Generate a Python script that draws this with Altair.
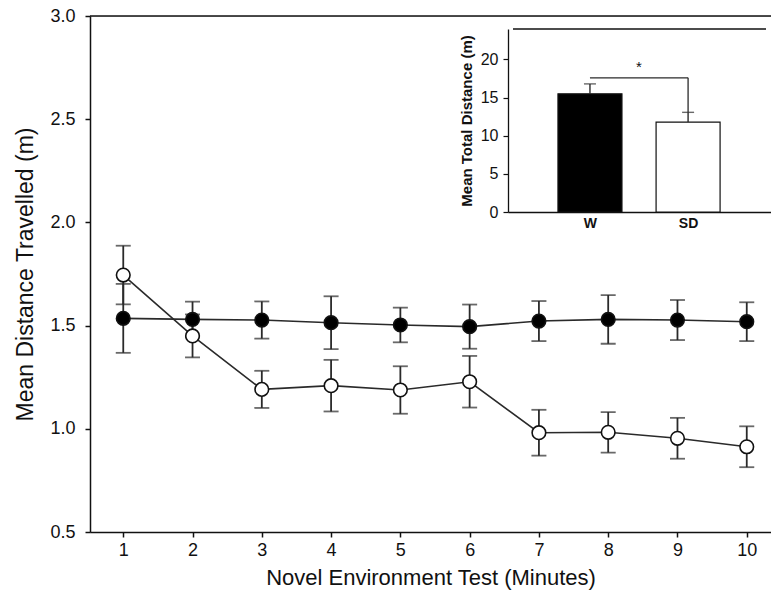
import altair as alt
import pandas as pd

# ---------------- data ----------------
minutes = list(range(1, 11))
w_mean = [1.535, 1.530, 1.527, 1.514, 1.503, 1.495, 1.522, 1.530, 1.527, 1.519]
w_err = [0.167, 0.086, 0.090, 0.128, 0.084, 0.107, 0.097, 0.118, 0.097, 0.094]
sd_mean = [1.745, 1.450, 1.191, 1.209, 1.188, 1.228, 0.981, 0.983, 0.954, 0.913]
sd_err = [0.142, 0.104, 0.090, 0.125, 0.115, 0.125, 0.111, 0.098, 0.099, 0.099]
y_ticks = [0.5, 1.0, 1.5, 2.0, 2.5, 3.0]

inset_groups = ["W", "SD"]
inset_pos = [1, 2]
inset_mean = [15.5, 11.8]
inset_err = [1.3, 1.27]
inset_ticks = [0, 5, 10, 15, 20]
bracket_y = 17.6
star_y = 19.0

FONT = "Liberation Sans"
INK = "#111111"
LINE = "#2a2a2a"

rows = []
for g, means, errs in (("W", w_mean, w_err), ("SD", sd_mean, sd_err)):
    for m, v, e in zip(minutes, means, errs):
        rows.append({"group": g, "minute": m, "mean": v, "lo": v - e, "hi": v + e})
df = pd.DataFrame(rows)

inset_df = pd.DataFrame({
    "group": inset_groups,
    "pos": inset_pos,
    "mean": inset_mean,
    "top": [m + e for m, e in zip(inset_mean, inset_err)],
})

# ---------------- main panel ----------------
W, H = 681, 516
x_dom = [0.52, 10.35]
y_dom = [0.5, 3.0]
x_scale = alt.Scale(domain=x_dom, nice=False, zero=False)
y_scale = alt.Scale(domain=y_dom, nice=False, zero=False)

x_axis = alt.Axis(values=minutes, tickSize=5, tickWidth=1.5, tickColor=INK,
                  domainColor=INK, domainWidth=1.5, grid=False,
                  labelFontSize=18, labelColor=INK, labelPadding=4, labelFlush=False,
                  title="Novel Environment Test (Minutes)", titleFontSize=22,
                  titleFontWeight="normal", titleColor=INK, titlePadding=8)
y_axis = alt.Axis(values=y_ticks, format=".1f", tickSize=5, tickWidth=1.5, tickColor=INK,
                  domainColor=INK, domainWidth=1.5, grid=False,
                  labelFontSize=18, labelColor=INK, labelPadding=10, labelFlush=False,
                  title="Mean Distance Travelled (m)", titleFontSize=23,
                  titleFontWeight="normal", titleColor=INK, titlePadding=12)


def MX(field="minute:Q"):
    return alt.X(field, scale=x_scale, axis=x_axis)


def MY(field):
    return alt.Y(field, scale=y_scale, axis=y_axis)


fill_enc = alt.Fill("group:N", scale=alt.Scale(domain=["W", "SD"], range=["#000000", "#ffffff"]),
                    legend=None)

base = alt.Chart(df)
lines = base.mark_line(color=LINE, strokeWidth=1.6).encode(
    x=MX(), y=MY("mean:Q"), detail="group:N")
err_rules = base.mark_rule(color=LINE, strokeWidth=1.8).encode(
    x=MX(), y=MY("lo:Q"), y2="hi:Q")
caps = base.transform_fold(["lo", "hi"], as_=["which", "val"]).mark_tick(
    orient="horizontal", size=15, thickness=1.8, color=LINE).encode(
    x=MX(), y=MY("val:Q"))
points = base.mark_point(shape="circle", filled=True, size=185, stroke=INK,
                         strokeWidth=1.6, opacity=1).encode(
    x=MX(), y=MY("mean:Q"), fill=fill_enc)
top_df = pd.DataFrame({"x": [x_dom[0]], "x2": [x_dom[1]], "y": [y_dom[1]]})
top_line = alt.Chart(top_df).mark_rule(color=INK, strokeWidth=1.5).encode(
    x=MX("x:Q"), x2="x2:Q", y=MY("y:Q"))

main = alt.layer(lines, err_rules, caps, points, top_line)

# ---------------- inset panel ----------------
ix_dom = [0.2157, 2.794]
iy_dom = [0, 24]
ix_scale = alt.Scale(domain=ix_dom, range=[418, 681], nice=False, zero=False)
iy_scale = alt.Scale(domain=iy_dom, range=[196, 13], nice=False, zero=True)
label_expr = " : ".join(
    [f"datum.value == {p} ? '{g}'" for p, g in zip(inset_pos[:-1], inset_groups[:-1])]
    + [f"'{inset_groups[-1]}'"])
ix_axis = alt.Axis(orient="bottom", offset=-(H - 196), values=inset_pos, labelExpr=label_expr,
                   ticks=False, domainColor=INK, domainWidth=1.3, grid=False,
                   labelFontSize=14, labelFontWeight="bold", labelColor=INK, labelPadding=4,
                   title=None)
iy_axis = alt.Axis(orient="left", offset=-418, values=inset_ticks, tickSize=5, tickWidth=1.2,
                   tickColor=INK, domainColor=INK, domainWidth=1.3, grid=False,
                   labelFontSize=16, labelColor=INK, labelPadding=5, labelFlush=False,
                   title="Mean Total Distance (m)", titleFontSize=15, titleFontWeight="bold",
                   titleColor=INK, titlePadding=6)


def IX(field="pos:Q"):
    return alt.X(field, scale=ix_scale, axis=ix_axis)


def IY(field):
    return alt.Y(field, scale=iy_scale, axis=iy_axis)


ibase = alt.Chart(inset_df)
bars = ibase.mark_bar(size=64, stroke=INK, strokeWidth=1.2).encode(
    x=IX(), y=IY("mean:Q"), fill=fill_enc)
ierr = ibase.mark_rule(color=LINE, strokeWidth=1.4).encode(
    x=IX(), y=IY("mean:Q"), y2="top:Q")
icaps = ibase.mark_tick(orient="horizontal", size=12, thickness=1.4, color=LINE).encode(
    x=IX(), y=IY("top:Q"))

bracket_df = pd.DataFrame({"x": [inset_pos[0]], "x2": [inset_pos[1]], "y": [bracket_y],
                           "yb": [inset_df["top"].iloc[1]]})
bracket_h = alt.Chart(bracket_df).mark_rule(color=LINE, strokeWidth=1.3).encode(
    x=IX("x:Q"), x2="x2:Q", y=IY("y:Q"))
bracket_v = alt.Chart(bracket_df).mark_rule(color=LINE, strokeWidth=1.3).encode(
    x=IX("x2:Q"), y=IY("y:Q"), y2="yb:Q")
star_df = pd.DataFrame({"x": [(inset_pos[0] + inset_pos[1]) / 2], "y": [star_y], "t": ["*"]})
star = alt.Chart(star_df).mark_text(fontSize=15, color=INK, baseline="middle").encode(
    x=IX("x:Q"), y=IY("y:Q"), text="t:N")
frame_df = pd.DataFrame({"x": [ix_dom[0]], "x2": [ix_dom[1]], "y": [iy_dom[1]]})
frame_top = alt.Chart(frame_df).mark_rule(color=INK, strokeWidth=1.3).encode(
    x=IX("x:Q"), x2="x2:Q", y=IY("y:Q"))

inset = alt.layer(bars, ierr, icaps, bracket_h, bracket_v, star, frame_top)

chart = alt.layer(main, inset).resolve_scale(x="independent", y="independent").properties(
    width=W, height=H,
    autosize=alt.AutoSizeParams(type="none"),
    padding={"left": 90, "top": 16, "right": 0, "bottom": 595 - 16 - H},
).configure_view(stroke=None).configure_axis(
    labelFont=FONT, titleFont=FONT
).configure_text(font=FONT).configure(background="white")

chart.save("out.html", embed_options={"renderer": "svg", "actions": False})
